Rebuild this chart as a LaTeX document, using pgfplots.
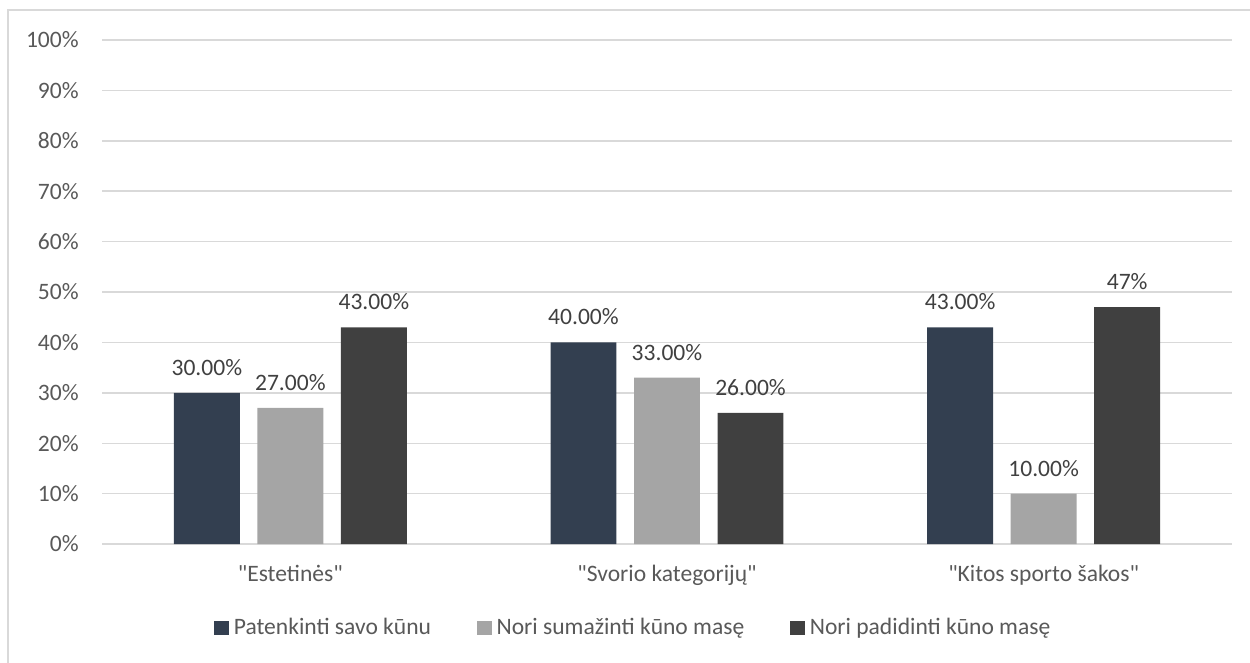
\documentclass[border=0pt]{standalone}
\usepackage{fontspec}
\setmainfont{Carlito}[Ligatures=TeXOff]
\usepackage{pgfplots}
\pgfplotsset{compat=1.18}

\definecolor{cNavy}{HTML}{333F50}
\definecolor{cGray}{HTML}{A5A5A5}
\definecolor{cDark}{HTML}{404040}
\definecolor{cGrid}{HTML}{D9D9D9}
\definecolor{cTick}{HTML}{595959}
\definecolor{cLabel}{HTML}{404040}

\newcommand{\dq}{\symbol{34}}
\newcommand{\chartfont}{\fontsize{13.4}{16}\selectfont}

\begin{document}
\begin{tikzpicture}
\useasboundingbox (0,0) rectangle (25cm,13.24cm);
% chart frame
\draw[cGrid, line width=0.8pt] (0.16cm,-0.1cm) -- (0.16cm,13.04cm) -- (25.1cm,13.04cm);
\begin{axis}[
  at={(2.04cm,2.36cm)}, anchor=south west,
  width=22.6cm, height=10.08cm, scale only axis,
  xmin=-0.5, xmax=2.5, ymin=0, ymax=100,
  xtick={0,1,2},
  xticklabels={{\dq Estetinės\dq},{\dq Svorio kategorijų\dq},{\dq Kitos sporto šakos\dq}},
  ytick={0,10,...,100},
  yticklabel={\pgfmathprintnumber{\tick}\%},
  /pgf/number format/assume math mode=true,
  major tick length=0pt,
  axis line style={draw=none},
  ymajorgrids, grid style={cGrid, line width=0.8pt},
  tick label style={font=\chartfont, text=cTick},
  yticklabel style={anchor=east, inner sep=0pt, xshift=-0.46cm},
  xticklabel style={anchor=north, inner sep=0pt, yshift=-0.42cm},
  ybar, bar width=0.175,
  point meta=explicit symbolic,
  nodes near coords,
  every node near coord/.append style={font=\chartfont, text=cLabel, anchor=south, inner sep=0pt, yshift=0.34cm},
  legend columns=3,
  legend style={draw=none, at={(0.0991,-0.1667)}, anchor=west,
    inner sep=0pt, font=\chartfont, text=cTick,
    nodes={inner sep=0pt},
    /tikz/every odd column/.append style={column sep=0.1cm},
    /tikz/every even column/.append style={column sep=0.92cm}},
  legend image code/.code={\fill[#1] (0cm,-0.14cm) rectangle (0.29cm,0.14cm);},
]
\addplot[fill=cNavy, draw=none, bar shift=-0.2217] coordinates {
  (0,30) [30.00\%]
  (1,40) [40.00\%]
  (2,43) [43.00\%]
};
\addlegendentry{Patenkinti savo kūnu}
\addplot[fill=cGray, draw=none, bar shift=0] coordinates {
  (0,27) [27.00\%]
  (1,33) [33.00\%]
  (2,10) [10.00\%]
};
\addlegendentry{Nori sumažinti kūno masę}
\addplot[fill=cDark, draw=none, bar shift=0.2217] coordinates {
  (0,43) [43.00\%]
  (1,26) [26.00\%]
  (2,47) [47\%]
};
\addlegendentry{Nori padidinti kūno masę}
\end{axis}
\end{tikzpicture}
\end{document}
